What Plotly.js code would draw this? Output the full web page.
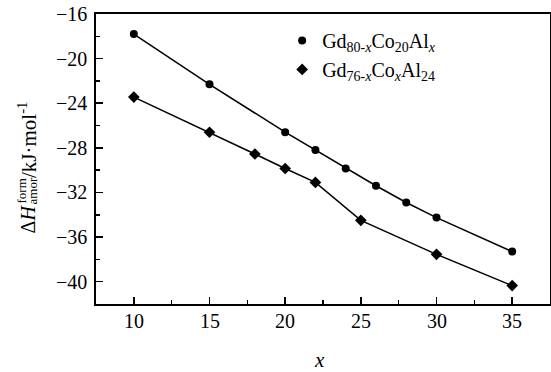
<!DOCTYPE html>
<html>
<head>
<meta charset="utf-8">
<script src="https://cdn.plot.ly/plotly-3.0.1.min.js"></script>
<style>html,body{margin:0;padding:0;background:#fff;}#chart{width:551px;height:372px;}</style>
</head>
<body>
<div id="chart"></div>
<script>
// Gd80-xCo20Alx series
const xCo20 = [10, 15, 20, 22, 24, 26, 28, 30, 35];
const hCo20 = [-17.8, -22.3, -26.6, -28.2, -29.85, -31.4, -32.9, -34.25, -37.3];
// Gd76-xCoxAl24 series
const xAl24 = [10, 15, 18, 20, 22, 25, 30, 35];
const hAl24 = [-23.45, -26.6, -28.55, -29.85, -31.1, -34.5, -37.55, -40.35];
const name1 = 'Gd<sub>80-<i>x</i></sub>Co<sub>20</sub>Al<sub><i>x</i></sub>';
const name2 = 'Gd<sub>76-<i>x</i></sub>Co<sub><i>x</i></sub>Al<sub>24</sub>';
const xTickVals = [10, 15, 20, 25, 30, 35];
const yTickVals = [-16, -20, -24, -28, -32, -36, -40];

const font = 'Liberation Serif';

const traces = [
  {x: xCo20, y: hCo20, mode: 'lines', line: {color: '#000', width: 1.5}, showlegend: false, hoverinfo: 'skip'},
  {x: xAl24, y: hAl24, mode: 'lines', line: {color: '#000', width: 1.5}, showlegend: false, hoverinfo: 'skip'},
  {x: xCo20, y: hCo20, mode: 'markers', name: name1, marker: {symbol: 'circle', size: 8, color: '#000'}},
  {x: xAl24, y: hAl24, mode: 'markers', name: name2, marker: {symbol: 'diamond', size: 9, color: '#000'}}
];

// tick labels placed through the axes' own scales
const xTickLabels = xTickVals.map(v => ({
  xref: 'x', yref: 'paper', x: v, y: 0, xanchor: 'center', yanchor: 'top', yshift: -4,
  text: String(v), showarrow: false, font: {family: font, size: 20, color: '#000'}
}));
const yTickLabels = yTickVals.map(v => ({
  xref: 'paper', yref: 'y', x: 0, y: v, xanchor: 'right', yanchor: 'middle', xshift: -7,
  text: '\u2212' + Math.abs(v), showarrow: false, font: {family: font, size: 20, color: '#000'}
}));

const titleAnns = [
  {xref: 'paper', yref: 'paper', x: 0.493, y: -0.193, text: '<i>x</i>',
   showarrow: false, xanchor: 'center', yanchor: 'middle', font: {family: font, size: 21, color: '#000'}},
  {xref: 'paper', yref: 'paper', x: -0.1487, y: 0.2931, text: '\u0394<i>H</i>', textangle: -90,
   showarrow: false, xanchor: 'center', yanchor: 'middle', font: {family: font, size: 20, color: '#000'}},
  {xref: 'paper', yref: 'paper', x: -0.1641, y: 0.3897, text: 'form', textangle: -90,
   showarrow: false, xanchor: 'center', yanchor: 'middle', font: {family: font, size: 13, color: '#000'}},
  {xref: 'paper', yref: 'paper', x: -0.1377, y: 0.3897, text: 'amor', textangle: -90,
   showarrow: false, xanchor: 'center', yanchor: 'middle', font: {family: font, size: 13, color: '#000'}},
  {xref: 'paper', yref: 'paper', x: -0.152, y: 0.5655, text: '/kJ\u00b7mol<sup>-1</sup>', textangle: -90,
   showarrow: false, xanchor: 'center', yanchor: 'middle', font: {family: font, size: 21, color: '#000'}}
];

const layout = {
  width: 551, height: 372,
  margin: {l: 96, r: 1, t: 14, b: 68},
  font: {family: font, color: '#000', size: 19},
  xaxis: {showline: true, linecolor: '#000', linewidth: 1.8, mirror: true, ticks: 'inside', ticklen: 7, tickwidth: 1.5, tickcolor: '#000', showgrid: false, zeroline: false,
    range: [7.5, 37.5], tickvals: xTickVals, showticklabels: false,
    minor: {dtick: 2.5, tick0: 7.5, ticks: 'inside', ticklen: 4, tickwidth: 1.5, tickcolor: '#000'}},
  yaxis: {showline: true, linecolor: '#000', linewidth: 1.8, mirror: true, ticks: 'inside', ticklen: 7, tickwidth: 1.5, tickcolor: '#000', showgrid: false, zeroline: false,
    range: [-42, -16], tickvals: yTickVals, showticklabels: false,
    minor: {dtick: 2, tick0: -16, ticks: 'inside', ticklen: 4, tickwidth: 1.5, tickcolor: '#000'}},
  legend: {
    x: 0.41, y: 0.976, xanchor: 'left', yanchor: 'top',
    bgcolor: 'rgba(0,0,0,0)', borderwidth: 0,
    font: {family: font, size: 20, color: '#000'},
    itemwidth: 30, tracegroupgap: 0
  },
  annotations: xTickLabels.concat(yTickLabels, titleAnns)
};

Plotly.newPlot('chart', traces, layout, {displayModeBar: false, staticPlot: true});
</script>
</body>
</html>
